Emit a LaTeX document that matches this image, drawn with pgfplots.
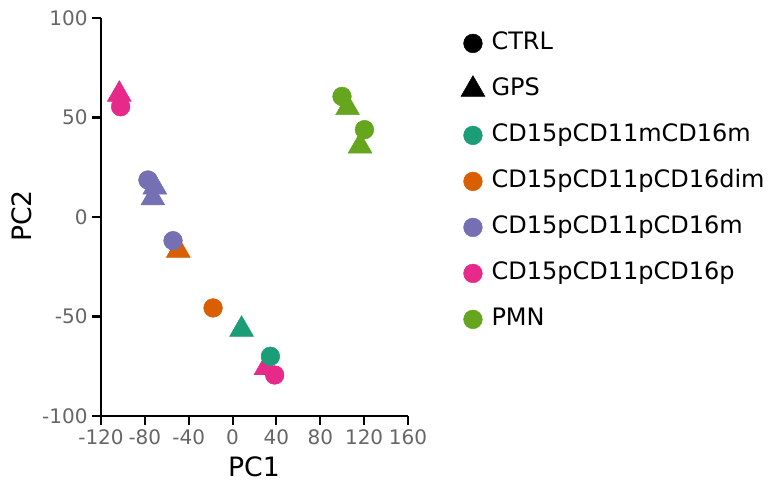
\documentclass[border=0pt]{standalone}
\usepackage{fontspec}
\setmainfont{DejaVu Sans}
\usepackage{pgfplots}
\pgfplotsset{compat=1.18}
\definecolor{cTeal}{HTML}{1B9E77}
\definecolor{cOrange}{HTML}{D95F02}
\definecolor{cPurple}{HTML}{7570B3}
\definecolor{cPink}{HTML}{E7298A}
\definecolor{cGreen}{HTML}{66A61E}
\definecolor{tickgray}{HTML}{666666}
\begin{document}
\begin{tikzpicture}
\useasboundingbox (0pt,0pt) rectangle (576pt,362.25pt);
\begin{axis}[
  at={(75.75pt,50.25pt)}, anchor=south west,
  scale only axis, width=230.25pt, height=298.5pt,
  xmin=-120, xmax=160, ymin=-100, ymax=100,
  axis lines=left,
  axis line style={-, line width=1.8pt, black},
  xtick={-120,-80,-40,0,40,80,120,160},
  ytick={-100,-50,0,50,100},
  tick align=outside, major tick length=6.5pt,
  tick style={line width=1.6pt, black},
  tick label style={font=\fontsize{15}{17}\selectfont, text=tickgray},
  /pgf/number format/assume math mode=true,
  clip=false,
  legend cell align=left,
  legend style={draw=none, fill=none, inner sep=0pt,
    at={(1.172,0.972)}, anchor=north west,
    font=\fontsize{18}{21}\selectfont,
    nodes={inner sep=2pt, text height=13pt, text depth=4pt},
    row sep=13.5pt, column sep=3pt},
]
\addlegendimage{only marks, mark=*, mark size=7pt, black}
\addlegendentry{CTRL}
\addlegendimage{only marks, mark=triangle*, mark size=10.3pt, black}
\addlegendentry{GPS}
\addlegendimage{only marks, mark=*, mark size=7pt, cTeal}
\addlegendentry{CD15pCD11mCD16m}
\addlegendimage{only marks, mark=*, mark size=7pt, cOrange}
\addlegendentry{CD15pCD11pCD16dim}
\addlegendimage{only marks, mark=*, mark size=7pt, cPurple}
\addlegendentry{CD15pCD11pCD16m}
\addlegendimage{only marks, mark=*, mark size=7pt, cPink}
\addlegendentry{CD15pCD11pCD16p}
\addlegendimage{only marks, mark=*, mark size=7pt, cGreen}
\addlegendentry{PMN}
% GPS (triangles)
\addplot[forget plot, only marks, mark=triangle*, mark size=10.3pt, cTeal, draw=none] coordinates {(8.2,-56.5)};
\addplot[forget plot, only marks, mark=triangle*, mark size=10.3pt, cOrange, draw=none] coordinates {(-49.5,-16.8)};
\addplot[forget plot, only marks, mark=triangle*, mark size=10.3pt, cPurple, draw=none] coordinates {(-70.9,15) (-72.7,9.5)};
\addplot[forget plot, only marks, mark=triangle*, mark size=10.3pt, cPink, draw=none] coordinates {(-103.3,61.6) (30.5,-75.7)};
\addplot[forget plot, only marks, mark=triangle*, mark size=10.3pt, cGreen, draw=none] coordinates {(104.9,54.9) (116.3,35.6)};
% CTRL (circles)
\addplot[forget plot, only marks, mark=*, mark size=7pt, cTeal, draw=none] coordinates {(34.5,-70)};
\addplot[forget plot, only marks, mark=*, mark size=7pt, cOrange, draw=none] coordinates {(-17.8,-45.7)};
\addplot[forget plot, only marks, mark=*, mark size=7pt, cPurple, draw=none] coordinates {(-77.2,18.6) (-54.3,-11.9)};
\addplot[forget plot, only marks, mark=*, mark size=7pt, cPink, draw=none] coordinates {(-102.1,55.4) (38.4,-79.4)};
\addplot[forget plot, only marks, mark=*, mark size=7pt, cGreen, draw=none] coordinates {(99.8,60.6) (120.3,43.9)};
\end{axis}
\node[font=\fontsize{20}{24}\selectfont] at (190.5pt,12pt) {PC1};
\node[font=\fontsize{20}{24}\selectfont, rotate=90] at (16.5pt,200.25pt) {PC2};
\end{tikzpicture}
\end{document}
